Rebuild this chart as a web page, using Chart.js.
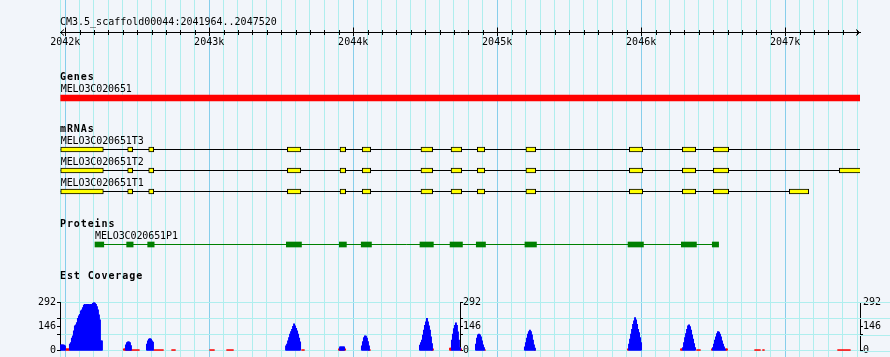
<!DOCTYPE html>
<html>
<head>
<meta charset="utf-8">
<style>
html, body { margin: 0; padding: 0; background: #F2F5FA; }
canvas { display: block; }
</style>
<script src="https://cdn.jsdelivr.net/npm/chart.js@4/dist/chart.umd.min.js"></script>
</head>
<body>
<canvas id="c" width="890" height="357"></canvas>
<script>
// ================= DATA =================
const regionLabel = 'CM3.5_scaffold00044:2041964..2047520';
const regionStart = 2041964;
const regionEnd = 2047520;
const rulerStep = 100;            // minor tick / grid spacing (bp)
const rulerMajor = 1000;          // labelled tick spacing (bp)

const trackTitles = ['Genes', 'mRNAs', 'Proteins', 'Est Coverage'];

const geneNames = ['MELO3C020651'];
const geneSpans = [[2041969, 2047532]];

const mrnaNames = ['MELO3C020651T3', 'MELO3C020651T2', 'MELO3C020651T1'];
const mrnaSpans = [[2041969, 2047532], [2041969, 2047525], [2041969, 2047164]];
const mrnaT3Exons = [[2041969,2042265],[2042434,2042469],[2042580,2042615],[2043543,2043636],[2043909,2043948],[2044063,2044122],[2044471,2044552],[2044680,2044754],[2044862,2044914],[2045200,2045268],[2045918,2046011],[2046286,2046379],[2046501,2046608]];
const mrnaT2Exons = [[2041969,2042265],[2042434,2042469],[2042580,2042615],[2043543,2043636],[2043909,2043948],[2044063,2044122],[2044471,2044552],[2044680,2044754],[2044862,2044914],[2045200,2045268],[2045918,2046011],[2046286,2046379],[2046501,2046608],[2047376,2047525]];
const mrnaT1Exons = [[2041969,2042265],[2042434,2042469],[2042580,2042615],[2043543,2043636],[2043909,2043948],[2044063,2044122],[2044471,2044552],[2044680,2044754],[2044862,2044914],[2045200,2045268],[2045918,2046011],[2046286,2046379],[2046501,2046608],[2047029,2047164]];

const proteinNames = ['MELO3C020651P1'];
const proteinSpans = [[2042207, 2046538]];
const proteinCds = [[2042207,2042268],[2042427,2042472],[2042573,2042618],[2043536,2043641],[2043904,2043953],[2044056,2044127],[2044464,2044557],[2044673,2044759],[2044855,2044919],[2045193,2045273],[2045909,2046016],[2046279,2046384],[2046494,2046538]];

// EST coverage, per-bin values (bin width covBinBp), grouped in runs starting at the given positions
const covBinBp = 6.945;
const covAxisTicks = [0, 97.33, 146, 194.67, 292];
const covAxisLabels = [0, 146, 292];
const covGridValues = [0, 97.33, 194.67, 292];
const estRunStarts = [2041971, 2042033, 2042422, 2042568, 2043534, 2043909, 2044061, 2044464, 2044686, 2044853, 2045193, 2045916, 2046291, 2046499];
const estRunValues = [
  [36, 36, 36, 34, 30],
  [40, 50, 76, 90, 120, 150, 156, 170, 196, 210, 220, 240, 246, 260, 276, 280, 276, 280, 280, 280, 276, 280, 280, 286, 292, 288, 280, 266, 246, 216, 186, 60, 60],
  [36, 50, 54, 54, 50, 32],
  [40, 60, 70, 74, 70, 60, 52],
  [30, 40, 60, 80, 100, 116, 130, 148, 162, 150, 136, 120, 100, 76, 54],
  [24, 24, 24, 24, 24],
  [30, 56, 80, 90, 88, 76, 56, 30],
  [34, 50, 64, 94, 124, 154, 174, 196, 174, 150, 124, 84, 44],
  [64, 100, 134, 154, 168, 154, 114, 64, 20],
  [40, 76, 96, 100, 96, 84, 60, 36, 20],
  [24, 50, 76, 100, 116, 124, 116, 96, 64, 36, 16],
  [40, 70, 100, 130, 160, 180, 200, 186, 160, 130, 110, 80, 50],
  [20, 50, 80, 104, 130, 150, 156, 146, 124, 96, 70, 44, 20],
  [20, 40, 64, 84, 104, 116, 112, 100, 84, 60, 40, 24, 10]
];
const lowRunStarts = [2042006, 2042408, 2042617, 2042742, 2043006, 2043124, 2043645, 2043902, 2044110, 2044547, 2044673, 2044749, 2044916, 2045263, 2045909, 2046277, 2046388, 2046492, 2046589, 2046791, 2046846, 2047367];
const lowRunValues = [
  [12, 12, 12, 12],
  [12, 12, 6, 6, 6, 6, 6, 6, 6, 6, 6, 6, 6, 6, 6, 6],
  [6, 6, 6, 6, 6, 6, 6, 6, 6, 6],
  [6, 6, 6, 6],
  [6, 6, 6, 6, 6],
  [6, 6, 6, 6, 6, 6, 6],
  [6, 6, 6],
  [12, 12, 12, 12, 12, 12, 12],
  [6, 6],
  [12, 12],
  [16, 16],
  [12],
  [6],
  [6],
  [12],
  [12, 12],
  [6, 6, 6, 6],
  [12],
  [12, 12],
  [6, 6, 6, 6, 6, 6],
  [6, 6],
  [6, 6, 6, 6, 6, 6, 6, 6, 6, 6, 6, 6, 6]
];

// ================= LAYOUT / STYLE =================
const L = {
  height: 357, leftW: 60, rightW: 30,
  rulerRow: 32.5, regionTextY: 25,
  titleY: [80, 132, 227, 278.5],
  geneLabelY: 92, geneRow: 98,
  mrnaLabelY: [144, 165, 186], mrnaRows: [149.5, 170.5, 191.5],
  proteinLabelY: 239, proteinRow: 244.5,
  covTop: 302.3, covBottom: 350.8
};
const C = {
  gridMinor: '#AFEEEE', gridMajor: '#87CEEB', ink: '#000000',
  gene: '#FF0000', exon: '#FFFF00', protein: '#008000',
  est: '#0000FF', low: '#FF0000'
};
const FONT = '"DejaVu Sans Mono", "Liberation Mono", monospace';

// ================= BUILD =================
function runs(starts, values) {
  const pts = [];
  starts.forEach((s, k) => values[k].forEach((v, i) => pts.push({ x: s + i * covBinBp, y: v })));
  return pts;
}
function spanLine(span, row, color, label) {
  return { type: 'line', label, data: [{ x: span[0], y: row }, { x: span[1], y: row }],
    xAxisID: 'x', yAxisID: 'rows', borderColor: color, borderWidth: 1, pointRadius: 0, order: 5 };
}
function boxes(list, row, fill, border, thick, label) {
  return { type: 'bar', label, indexAxis: 'y', grouped: false,
    data: list.map(e => ({ x: e, y: row })), xAxisID: 'x', yAxisID: 'rows',
    backgroundColor: fill, borderColor: border, borderWidth: border ? 1 : 0,
    borderSkipped: false, barThickness: thick, order: 1 };
}

const mrnaExons = [mrnaT3Exons, mrnaT2Exons, mrnaT1Exons];
const datasets = [];
datasets.push(boxes(geneSpans, L.geneRow, C.gene, null, 6, geneNames[0]));
mrnaNames.forEach((n, i) => {
  datasets.push(spanLine(mrnaSpans[i], L.mrnaRows[i], C.ink, n + ' introns'));
  datasets.push(boxes(mrnaExons[i], L.mrnaRows[i], C.exon, C.ink, 5, n));
});
datasets.push(spanLine(proteinSpans[0], L.proteinRow, C.protein, proteinNames[0] + ' line'));
datasets.push(boxes(proteinCds, L.proteinRow, C.protein, null, 5, proteinNames[0]));
datasets.push({ type: 'bar', label: 'EST low', data: runs(lowRunStarts, lowRunValues), xAxisID: 'x', yAxisID: 'covL',
  backgroundColor: C.low, borderWidth: 0, barThickness: 1.3, grouped: false, order: 3 });
datasets.push({ type: 'bar', label: 'EST coverage', data: runs(estRunStarts, estRunValues), xAxisID: 'x', yAxisID: 'covL',
  backgroundColor: C.est, borderWidth: 0, barThickness: 1.3, grouped: false, order: 2 });

function covAxis(position, extra) {
  return Object.assign({
    type: 'linear', axis: 'y', position, min: 0, max: 292, offset: false, beginAtZero: true,
    afterBuildTicks: s => { s.ticks = covAxisTicks.map(v => ({ value: v })); },
    ticks: { autoSkip: false, padding: 1, color: C.ink, font: { family: FONT, size: 10 },
      callback: v => covAxisLabels.includes(v) ? String(v) : '' },
    border: { display: true, color: C.ink, width: 1 },
    grid: { drawOnChartArea: false, drawTicks: true, tickLength: 3, tickColor: C.ink }
  }, extra);
}

const layoutPlugin = {
  id: 'trackLayout',
  afterLayout(chart) {
    const x = chart.scales.x;
    ['covL', 'covM', 'covR'].forEach(id => {
      const s = chart.scales[id];
      s.top = L.covTop; s.bottom = L.covBottom; s.height = L.covBottom - L.covTop;
      if (id === 'covM') {
        const px = x.getPixelForValue((regionStart + regionEnd) / 2);
        s.left = px; s.right = px + L.rightW; s.width = L.rightW;
      }
      s.configure();
    });
  },
  beforeDatasetsDraw(chart) {
    // continue the coverage grid lines past the right-hand axis
    const ctx = chart.ctx, s = chart.scales.covL, area = chart.chartArea;
    ctx.save();
    ctx.strokeStyle = C.gridMinor; ctx.lineWidth = 1;
    covGridValues.forEach(v => {
      const py = Math.round(s.getPixelForValue(v)) + 0.5;
      ctx.beginPath(); ctx.moveTo(area.right, py); ctx.lineTo(chart.width, py); ctx.stroke();
    });
    ctx.restore();
  }
};

const decorPlugin = {
  id: 'decor',
  afterDraw(chart) {
    const ctx = chart.ctx, x = chart.scales.x, rows = chart.scales.rows;
    const area = chart.chartArea;
    const y0 = rows.getPixelForValue(L.rulerRow);
    ctx.save();
    // ruler tick marks and end arrows
    ctx.strokeStyle = C.ink; ctx.lineWidth = 1;
    x.ticks.forEach(t => {
      if (t.value === regionStart) return;
      const px = Math.round(x.getPixelForValue(t.value)) + 0.5;
      const major = t.value % rulerMajor === 0;
      ctx.beginPath();
      ctx.moveTo(px, y0 - (major ? 5 : 2.5));
      ctx.lineTo(px, y0 + (major ? 3.5 : 2.5));
      ctx.stroke();
    });
    ctx.beginPath();
    ctx.moveTo(area.left + 4, y0 - 3); ctx.lineTo(area.left + 0.5, y0); ctx.lineTo(area.left + 4, y0 + 3);
    ctx.moveTo(area.right - 4, y0 - 3); ctx.lineTo(area.right - 0.5, y0); ctx.lineTo(area.right - 4, y0 + 3);
    ctx.stroke();

    // texts
    ctx.fillStyle = C.ink;
    ctx.textBaseline = 'alphabetic';
    ctx.textAlign = 'left';
    ctx.font = '10px ' + FONT;
    if ('letterSpacing' in ctx) ctx.letterSpacing = '0px';
    ctx.fillText(regionLabel, area.left, L.regionTextY);

    ctx.font = 'bold 10px ' + FONT;
    if ('letterSpacing' in ctx) ctx.letterSpacing = '0.9px';
    trackTitles.forEach((t, i) => ctx.fillText(t, area.left, L.titleY[i]));

    ctx.font = '10px ' + FONT;
    if ('letterSpacing' in ctx) ctx.letterSpacing = '-0.1px';
    const lx = v => Math.max(area.left, x.getPixelForValue(v));
    ctx.fillText(geneNames[0], lx(geneSpans[0][0]), L.geneLabelY);
    mrnaNames.forEach((n, i) => ctx.fillText(n, lx(mrnaSpans[i][0]), L.mrnaLabelY[i]));
    ctx.fillText(proteinNames[0], lx(proteinSpans[0][0]), L.proteinLabelY);
    ctx.restore();
  }
};

Chart.defaults.font.family = FONT;
Chart.defaults.font.size = 10;
Chart.defaults.color = C.ink;

new Chart(document.getElementById('c'), {
  type: 'bar',
  data: { datasets },
  options: {
    responsive: false, maintainAspectRatio: false, devicePixelRatio: 1, animation: false,
    events: [],
    layout: { padding: 0, autoPadding: false },
    plugins: { legend: { display: false }, title: { display: false }, tooltip: { enabled: false } },
    scales: {
      x: {
        type: 'linear', axis: 'x', position: { rows: L.rulerRow },
        min: regionStart, max: regionEnd, offset: false, beginAtZero: false,
        afterBuildTicks: s => {
          const t = [{ value: regionStart }];
          for (let v = Math.ceil(regionStart / rulerStep) * rulerStep; v <= regionEnd; v += rulerStep) t.push({ value: v });
          s.ticks = t;
        },
        afterFit: s => { s.paddingLeft = 0; s.paddingRight = 0; s.paddingTop = 0; s.paddingBottom = 0; },
        ticks: { autoSkip: false, maxRotation: 0, minRotation: 0, padding: 4, color: C.ink,
          font: { family: FONT, size: 10 },
          callback: v => (v % rulerMajor === 0) ? (v / 1000) + 'k' : '' },
        grid: { offset: false, drawOnChartArea: true, drawTicks: false, lineWidth: 1,
          color: c => (c.tick && c.tick.value % rulerMajor === 0) ? C.gridMajor : C.gridMinor },
        border: { display: true, color: C.ink, width: 1 }
      },
      rows: {
        type: 'linear', axis: 'y', position: 'left', display: false, offset: false,
        min: 0, max: L.height, reverse: true
      },
      covL: covAxis('left', {
        afterFit: s => { s.width = L.leftW; s.paddingTop = 0; s.paddingBottom = 0; },
        grid: { drawOnChartArea: true, drawTicks: true, tickLength: 3, tickColor: C.ink,
          color: c => (c.tick && c.tick.value === 146) ? 'rgba(0,0,0,0)' : C.gridMinor }
      }),
      covM: covAxis('right', {
        afterFit: s => { s.width = 0; s.paddingTop = 0; s.paddingBottom = 0; },
        ticks: { autoSkip: false, padding: 0, color: C.ink, font: { family: FONT, size: 10 },
          callback: v => covAxisLabels.includes(v) ? String(v) : '' }
      }),
      covR: covAxis('right', {
        afterFit: s => { s.width = L.rightW; s.paddingTop = 0; s.paddingBottom = 0; },
        ticks: { autoSkip: false, padding: 0, color: C.ink, font: { family: FONT, size: 10 },
          callback: v => covAxisLabels.includes(v) ? String(v) : '' }
      })
    }
  },
  plugins: [layoutPlugin, decorPlugin]
});
</script>
</body>
</html>
